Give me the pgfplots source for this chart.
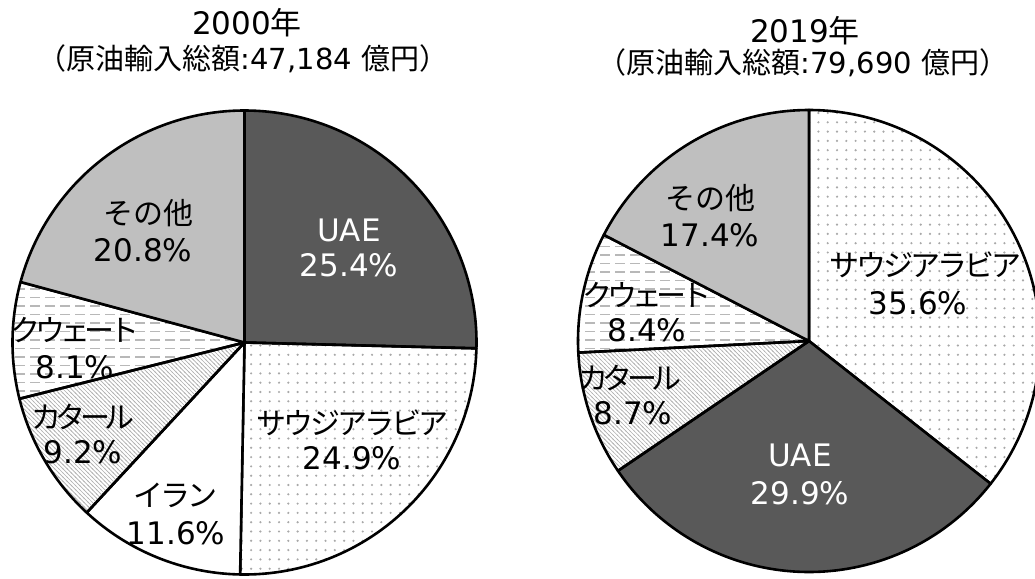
\documentclass[border=0pt]{standalone}
\usepackage{pgfplots}
\pgfplotsset{compat=1.18}
\usepackage{fontspec}
\setmainfont{DejaVu Sans}
\newfontfamily\cjk{Noto Sans CJK JP}
\newfontfamily\cjkp[LetterSpace=-10]{Noto Sans CJK JP}
\newfontfamily\cjkq[LetterSpace=-18]{Noto Sans CJK JP}
\usetikzlibrary{patterns}
\definecolor{uaegray}{HTML}{595959}
\definecolor{othergray}{HTML}{BFBFBF}
\definecolor{dotgray}{HTML}{A8A8A8}
\definecolor{diaggray}{HTML}{B0B0B0}
\definecolor{dashgray}{HTML}{B8B8B8}
\pgfdeclarepatternformonly{mydots}{\pgfqpoint{-2pt}{-2pt}}{\pgfqpoint{2pt}{2pt}}{\pgfqpoint{9.3pt}{9.3pt}}{%
  \pgfpathcircle{\pgfqpoint{0pt}{0pt}}{1.2pt}\pgfusepath{fill}}
\pgfdeclarepatternformonly{mydiag}{\pgfqpoint{-1pt}{-1pt}}{\pgfqpoint{5.2pt}{5.2pt}}{\pgfqpoint{4.2pt}{4.2pt}}{%
  \pgfsetlinewidth{0.65pt}\pgfpathmoveto{\pgfqpoint{-0.5pt}{4.7pt}}\pgfpathlineto{\pgfqpoint{4.7pt}{-0.5pt}}\pgfusepath{stroke}}
\pgfdeclarepatternformonly{mydash}{\pgfqpoint{0pt}{-1pt}}{\pgfqpoint{15pt}{1pt}}{\pgfqpoint{15pt}{8.5pt}}{%
  \pgfsetlinewidth{1.3pt}\pgfpathmoveto{\pgfqpoint{0pt}{0pt}}\pgfpathlineto{\pgfqpoint{10pt}{0pt}}\pgfusepath{stroke}}
% slice: start percent, end percent (cumulative), style
\newcommand{\slice}[3]{\addplot[draw=black, line width=2.6pt, line join=round, #3,
  domain={90-3.6*(#2)}:{90-3.6*(#1)}, samples=150] ({cos(x)},{sin(x)}) -- (axis cs:0,0) -- cycle;}
\newcommand{\J}[1]{{\cjk #1}}
\newcommand{\JL}[1]{{\cjkp\fontsize{30}{34}\selectfont #1}}
\newcommand{\JQ}[1]{{\cjkq\fontsize{30}{34}\selectfont #1}}
\newcommand{\JK}[1]{{\cjk\fontsize{30}{34}\selectfont #1}}
\tikzset{
  uae/.style={fill=uaegray},
  saudi/.style={pattern=mydots, pattern color=dotgray},
  iran/.style={fill=white},
  qatar/.style={pattern=mydiag, pattern color=diaggray},
  kuwait/.style={pattern=mydash, pattern color=dashgray},
  other/.style={fill=othergray},
  lab/.style={font=\fontsize{31}{34}\selectfont, inner sep=0pt, anchor=center},
  ttl/.style={font=\fontsize{29}{32}\selectfont, inner sep=0pt, anchor=center},
  ttlA/.style={font=\fontsize{31}{34}\selectfont, inner sep=0pt, anchor=center}
}
\begin{document}
\begin{tikzpicture}
\useasboundingbox (0pt,0pt) rectangle (1035pt,-578pt);
\fill[white] (0pt,0pt) rectangle (1035pt,-578pt);
% 2000: UAE 25.4, Saudi 24.9, Iran 11.6, Qatar 9.2, Kuwait 8.1, Other 20.8
\begin{axis}[at={(244.5pt,-342.5pt)}, anchor=center, x=232pt, y=232pt,
  xmin=-1, xmax=1, ymin=-1, ymax=1, hide axis, clip=false]
\slice{0}{25.4}{uae}
\slice{25.4}{50.3}{saudi}
\slice{50.3}{61.9}{iran}
\slice{61.9}{71.1}{qatar}
\slice{71.1}{79.2}{kuwait}
\slice{79.2}{100}{other}
\end{axis}
% 2019: Saudi 35.6, UAE 29.9, Qatar 8.7, Kuwait 8.4, Other 17.4
\begin{axis}[at={(809pt,-341pt)}, anchor=center, x=231pt, y=231pt,
  xmin=-1, xmax=1, ymin=-1, ymax=1, hide axis, clip=false]
\slice{0}{35.6}{saudi}
\slice{35.6}{65.5}{uae}
\slice{65.5}{74.2}{qatar}
\slice{74.2}{82.6}{kuwait}
\slice{82.6}{100}{other}
\end{axis}
% titles
\node[ttlA] at (247pt,-23pt) {2000\J{年}};
\node[ttl] at (243pt,-59pt) {\J{（原油輸入総額}:47,184 \J{億円）}};
\node[ttlA] at (805pt,-31pt) {2019\J{年}};
\node[ttl] at (803pt,-63pt) {\J{（原油輸入総額}:79,690 \J{億円）}};
% left labels
\node[lab, white] at (349pt,-230pt) {UAE};
\node[lab, white] at (349pt,-265pt) {25.4\%};
\node[lab] at (352pt,-423pt) {\JL{サウジアラビア}};
\node[lab] at (352pt,-458pt) {24.9\%};
\node[lab] at (175pt,-495pt) {\JL{イラン}};
\node[lab] at (176pt,-533pt) {11.6\%};
\node[lab] at (83pt,-417pt) {\JQ{カタール}};
\node[lab] at (83pt,-452pt) {9.2\%};
\node[lab] at (75pt,-330pt) {\JQ{クウェート}};
\node[lab] at (75pt,-367pt) {8.1\%};
\node[lab] at (148pt,-213pt) {\JK{その他}};
\node[lab] at (143pt,-250pt) {20.8\%};
% right labels
\node[lab] at (925pt,-265pt) {\JL{サウジアラビア}};
\node[lab] at (918pt,-303pt) {35.6\%};
\node[lab, white] at (800pt,-455pt) {UAE};
\node[lab, white] at (800pt,-493pt) {29.9\%};
\node[lab] at (630pt,-378pt) {\JQ{カタール}};
\node[lab] at (633pt,-413pt) {8.7\%};
\node[lab] at (647pt,-295pt) {\JQ{クウェート}};
\node[lab] at (647pt,-330pt) {8.4\%};
\node[lab] at (710pt,-198pt) {\JK{その他}};
\node[lab] at (710pt,-235pt) {17.4\%};
\end{tikzpicture}
\end{document}
